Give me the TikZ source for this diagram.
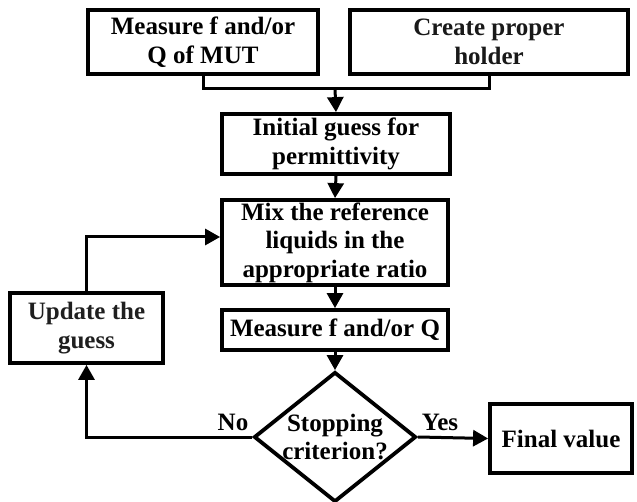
\documentclass[tikz,border=0pt]{standalone}
\usepackage{fontspec}
\setmainfont{Liberation Serif}
\usetikzlibrary{arrows.meta,shapes.geometric}
\begin{document}
\begin{tikzpicture}[x=1pt,y=-1pt,
  txt/.style={font=\fontsize{25}{28.5}\selectfont\bfseries,align=center,inner sep=0pt},
  box/.style={txt,draw,line width=3.8pt},
  arr/.style={line width=3pt,-{Triangle[length=15pt,width=16pt]}},
  ln/.style={line width=3pt}]
\useasboundingbox (0,0) rectangle (637,502);
\node[box,minimum width=230pt,minimum height=64pt] (b1) at (203,42) {Measure f and/or\\Q of MUT};
\node[box,minimum width=278pt,minimum height=64pt,text=black!90] (b2) at (489,42) {Create proper\\holder};
\node[box,minimum width=228pt,minimum height=60pt] (b3) at (336,144) {Initial guess for\\permittivity};
\node[box,minimum width=226pt,minimum height=85pt] (b4) at (335,242.5) {Mix the reference\\liquids in the\\appropriate ratio};
\node[box,minimum width=226pt,minimum height=40pt] (b5) at (335,330) {Measure f and/or Q};
\node[diamond,draw,line width=3.8pt,minimum width=162pt,minimum height=130pt,inner sep=0pt] (d) at (335,437) {};
\node[txt] (dt) at (335,437) {Stopping\\criterion?};
\node[box,minimum width=142pt,minimum height=69pt] (fin) at (561,438.5) {Final value};
\node[box,minimum width=153pt,minimum height=70pt,text=black!88] (upd) at (86.5,328) {Update the\\guess};
\coordinate (j) at (335,89);
\draw[ln] (b1.south) |- (j) -| (b2.south);
\draw[arr] (j) -- (b3.north);
\draw[arr] (b3.south) -- (b4.north);
\draw[arr] (b4.south) -- (b5.north);
\draw[arr] (b5.south) -- (d.north);
\draw[arr] (d.east) -- (fin.west);
\draw[arr] (d.west) -| (upd.south);
\draw[arr] (upd.north) |- ([yshift=5.5pt]b4.west);
\node[txt] (no) at (233,422) {No};
\node[txt] (yes) at (440,422) {Yes};
\end{tikzpicture}
\end{document}
